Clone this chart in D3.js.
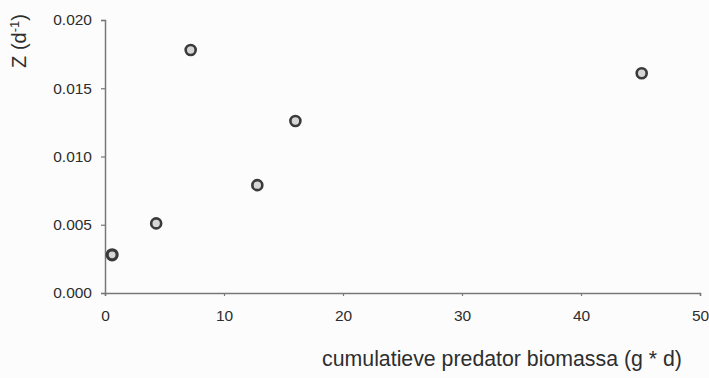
<!DOCTYPE html>
<html><head><meta charset="utf-8">
<script src="https://cdn.jsdelivr.net/npm/d3@7"></script>
<style>body{margin:0;background:#fcfcfc;}svg{display:block;}</style>
</head><body>
<svg id="c" width="709" height="378"></svg>
<script>
const biomass = [0.6, 4.3, 7.2, 12.8, 16.0, 45.1];
const zValues = [0.0028, 0.0051, 0.0178, 0.0079, 0.0126, 0.0161];
const xTicks = [0, 10, 20, 30, 40, 50];
const yTicks = [0, 0.005, 0.010, 0.015, 0.020];

const svg = d3.select("#c");
const x = d3.scaleLinear().domain([0, 50]).range([105, 700]);
const y = d3.scaleLinear().domain([0, 0.02]).range([293, 20]);
const axisColor = "#777";
const textColor = "#2e2e2e";
const font = "Liberation Sans, Arial, sans-serif";

const gx = svg.append("g").attr("transform", "translate(0,293)")
  .call(d3.axisBottom(x).tickValues(xTicks).tickSize(3).tickPadding(14).tickFormat(d3.format("d")));
const gy = svg.append("g").attr("transform", "translate(105,0)")
  .call(d3.axisLeft(y).tickValues(yTicks).tickSize(4).tickPadding(9).tickFormat(d3.format(".3f")));
[gx, gy].forEach(g => {
  g.select(".domain").attr("stroke", axisColor).attr("stroke-width", 1.5);
  g.selectAll(".tick line").attr("stroke", axisColor).attr("stroke-width", 1.2);
  g.selectAll(".tick text").attr("fill", textColor).style("font-family", font).style("font-size", "15.5px");
});

svg.append("g").selectAll("circle").data(biomass).join("circle")
  .attr("cx", (d) => x(d))
  .attr("cy", (d, i) => y(zValues[i]))
  .attr("r", 5)
  .attr("fill", "#d6d6d6")
  .attr("stroke", "#3a3a3a")
  .attr("stroke-width", (d, i) => i === 0 ? 3.2 : 2.6);

svg.append("text")
  .attr("transform", "translate(26,41) rotate(-90)")
  .attr("text-anchor", "middle")
  .attr("fill", textColor)
  .style("font-family", font)
  .style("font-size", "20px")
  .html('Z (d<tspan baseline-shift="super" font-size="13px">-1</tspan>)');

svg.append("text")
  .attr("x", 502).attr("y", 366)
  .attr("text-anchor", "middle")
  .attr("fill", textColor)
  .style("font-family", font)
  .style("font-size", "21.3px")
  .text("cumulatieve predator biomassa (g * d)");
</script>
</body></html>
